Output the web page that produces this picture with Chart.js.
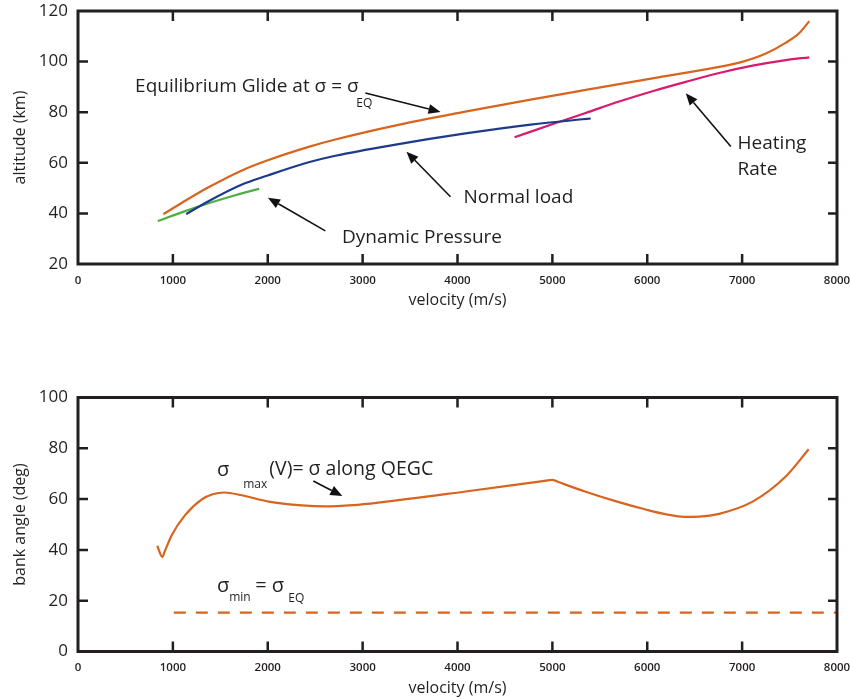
<!DOCTYPE html>
<html><head><meta charset="utf-8">
<script src="https://cdn.jsdelivr.net/npm/chart.js@4.4.0/dist/chart.umd.min.js"></script>
<style>
html,body{margin:0;padding:0;background:#fff;width:850px;height:700px;overflow:hidden;}
#c1{position:absolute;left:0;top:0;}
#c2{position:absolute;left:0;top:386px;}
</style></head><body>
<canvas id="c1" width="850" height="320"></canvas>
<canvas id="c2" width="850" height="314"></canvas>
<script>
// ---- tick labels ----
const velocityTicks = [0, 1000, 2000, 3000, 4000, 5000, 6000, 7000, 8000];
const altitudeTicks = [20, 40, 60, 80, 100, 120];
const bankTicks = [0, 20, 40, 60, 80, 100];

// ---- top panel: altitude (km) vs velocity (m/s) ----
const eqGlideV   = [900, 1100, 1375, 1728, 2000, 2431, 2712, 3364, 4067, 4771, 5380, 6055, 6758, 7000, 7250, 7462, 7600, 7708];
const eqGlideAlt = [39.7, 44.3, 50.3, 57.0, 61.0, 66.3, 69.2, 74.9, 80.1, 85.0, 89.0, 93.4, 97.9, 99.9, 103.2, 107.5, 111.2, 116.0];

const normalLoadV   = [1140, 1375, 1728, 2000, 2431, 2712, 3364, 4067, 4771, 5404];
const normalLoadAlt = [39.7, 44.8, 51.4, 55.0, 60.2, 62.8, 67.3, 71.5, 75.1, 77.5];

const dynPressureV   = [841, 1129, 1375, 1657, 1910];
const dynPressureAlt = [37.0, 40.9, 44.0, 47.2, 49.7];

const heatingRateV   = [4601, 5052, 5351, 5703, 6055, 6406, 6758, 7110, 7462, 7708];
const heatingRateAlt = [70.1, 75.9, 79.7, 84.2, 88.3, 92.0, 95.5, 98.4, 100.6, 101.7];

// ---- bottom panel: bank angle (deg) vs velocity (m/s) ----
const sigmaMaxV    = [835, 890, 910, 989, 1129, 1305, 1420, 1540, 1727, 2009, 2361, 2600, 2900, 3187, 4067, 4900, 5000, 5080, 5351, 5700, 5984, 6200, 6389, 6550, 6758, 7110, 7462, 7701];
const sigmaMaxBank = [41.6, 37.2, 39.0, 45.9, 53.7, 59.9, 61.9, 62.6, 61.5, 59.0, 57.5, 57.1, 57.6, 58.7, 62.9, 67.1, 67.6, 66.5, 62.9, 58.8, 55.9, 54.0, 53.0, 53.1, 54.2, 59.0, 69.0, 79.6];

const sigmaMinV    = [1010, 8000];
const sigmaMinBank = [15.3, 15.3];

// ---- colours ----
const ORANGE = '#d8641e', BLUE = '#1d3a8c', GREEN = '#4cb040', MAGENTA = '#d81b6c', INK = '#231f20';
const FONT = "'Open Sans', 'Noto Sans', sans-serif";

const pts = (xs, ys) => xs.map((x, i) => ({x: x, y: ys[i]}));

const framePlugin = {
  id: 'frame',
  afterDatasetsDraw(chart, args, opts) {
    const ctx = chart.ctx, a = chart.chartArea;
    const xs = chart.scales.x, ys = chart.scales.y;
    ctx.save();
    ctx.strokeStyle = INK; ctx.lineCap = 'butt';
    // inward tick marks
    ctx.lineWidth = 2.5;
    ctx.beginPath();
    xs.ticks.forEach(t => {
      const p = xs.getPixelForValue(t.value);
      if (p <= a.left + 2 || p >= a.right - 2) return;
      ctx.moveTo(p, a.bottom); ctx.lineTo(p, a.bottom - 10);
      ctx.moveTo(p, a.top); ctx.lineTo(p, a.top + 10);
    });
    ys.ticks.forEach(t => {
      const p = ys.getPixelForValue(t.value);
      if (p <= a.top + 2 || p >= a.bottom - 2) return;
      ctx.moveTo(a.left, p); ctx.lineTo(a.left + 10, p);
      ctx.moveTo(a.right, p); ctx.lineTo(a.right - 9, p);
    });
    ctx.stroke();
    // frame
    ctx.lineWidth = 3;
    ctx.strokeRect(a.left, a.top, a.right - a.left, a.bottom - a.top);
    // annotations
    (opts.notes || []).forEach(n => {
      if (n.arrow) {
        const x1 = xs.getPixelForValue(n.arrow[0]), y1 = ys.getPixelForValue(n.arrow[1]);
        const x2 = xs.getPixelForValue(n.arrow[2]), y2 = ys.getPixelForValue(n.arrow[3]);
        const ang = Math.atan2(y2 - y1, x2 - x1), L = 12, W = 5;
        const bx = x2 - L * Math.cos(ang), by = y2 - L * Math.sin(ang);
        ctx.lineWidth = 1.6; ctx.strokeStyle = '#111'; ctx.fillStyle = '#111';
        ctx.beginPath(); ctx.moveTo(x1, y1); ctx.lineTo(bx, by); ctx.stroke();
        ctx.beginPath();
        ctx.moveTo(x2, y2);
        ctx.lineTo(bx + W * Math.sin(ang), by - W * Math.cos(ang));
        ctx.lineTo(bx - W * Math.sin(ang), by + W * Math.cos(ang));
        ctx.closePath(); ctx.fill();
      } else {
        ctx.font = (n.size || 19) + 'px ' + FONT;
        ctx.fillStyle = INK; ctx.textAlign = 'left'; ctx.textBaseline = 'middle';
        ctx.fillText(n.text, xs.getPixelForValue(n.x), ys.getPixelForValue(n.y));
      }
    });
    ctx.restore();
  }
};

function makeChart(id, datasets, yMin, yMax, yTickList, yTitle, xTickPad, xTitlePad, xHeight, padTop, notes) {
  return new Chart(document.getElementById(id), {
    type: 'line',
    data: {datasets: datasets},
    options: {
      responsive: false, animation: false, events: [],
      layout: {padding: {top: padTop, right: 13, left: 0, bottom: 0}},
      elements: {point: {radius: 0}, line: {borderWidth: 2.2, cubicInterpolationMode: 'monotone', fill: false}},
      plugins: {legend: {display: false}, tooltip: {enabled: false}, frame: {notes: notes}},
      scales: {
        x: {
          type: 'linear', min: 0, max: 8000,
          afterBuildTicks: s => { s.ticks = velocityTicks.map(v => ({value: v})); },
          afterFit: s => { s.height = xHeight; s.paddingLeft = 0; s.paddingRight = 0; },
          grid: {display: false, drawTicks: false}, border: {display: false},
          ticks: {color: INK, padding: xTickPad, font: {family: FONT, size: 11.5, weight: '600'}, maxRotation: 0, autoSkip: false, callback: v => String(v)},
          title: {display: true, text: 'velocity (m/s)', color: INK, font: {family: FONT, size: 16}, padding: {top: 0, bottom: xTitlePad}}
        },
        y: {
          type: 'linear', min: yMin, max: yMax,
          afterBuildTicks: s => { s.ticks = yTickList.map(v => ({value: v})); },
          afterFit: s => { s.width = 78; s.paddingTop = 0; s.paddingBottom = 0; },
          grid: {display: false, drawTicks: false}, border: {display: false},
          ticks: {color: INK, padding: 10, font: {family: FONT, size: 17}, callback: v => String(v)},
          title: {display: true, text: yTitle, color: INK, font: {family: FONT, size: 16}, padding: {top: 10.4, bottom: 0}}
        }
      }
    },
    plugins: [framePlugin]
  });
}

makeChart('c1', [
  {label: 'Equilibrium Glide', data: pts(eqGlideV, eqGlideAlt), borderColor: ORANGE},
  {label: 'Normal load', data: pts(normalLoadV, normalLoadAlt), borderColor: BLUE},
  {label: 'Dynamic Pressure', data: pts(dynPressureV, dynPressureAlt), borderColor: GREEN},
  {label: 'Heating Rate', data: pts(heatingRateV, heatingRateAlt), borderColor: MAGENTA}
], 20, 120, altitudeTicks, 'altitude (km)', 10.2, 10.4, 56, 11, [
  {text: 'Equilibrium Glide at σ = σ', x: 602, y: 90.1},
  {text: 'EQ', x: 2934, y: 83.3, size: 12},
  {arrow: [3029, 87.6, 3821, 80.1]},
  {text: 'Normal load', x: 4063, y: 46.2},
  {arrow: [3926, 46.6, 3462, 64.4]},
  {text: 'Dynamic Pressure', x: 2783, y: 30.3},
  {arrow: [2607, 33.1, 2002, 46.2]},
  {text: 'Heating', x: 6952, y: 67.4},
  {text: 'Rate', x: 6952, y: 57.2},
  {arrow: [6881, 66.4, 6406, 87.5]}
]);

makeChart('c2', [
  {label: 'sigma max', data: pts(sigmaMaxV, sigmaMaxBank), borderColor: ORANGE},
  {label: 'sigma min', data: pts(sigmaMinV, sigmaMinBank), borderColor: ORANGE, borderDash: [12, 10]}
], 0, 100, bankTicks, 'bank angle (deg)', 9.0, 2.4, 48.5, 11.5, [
  {text: 'σ', x: 1464, y: 71.5, size: 20},
  {text: 'max', x: 1741, y: 65.9, size: 12},
  {text: '(V)= σ along QEGC', x: 2016, y: 71.5, size: 19.5},
  {arrow: [2480, 67.1, 2786, 61.2]},
  {text: 'σ', x: 1464, y: 25.5, size: 20},
  {text: 'min', x: 1594, y: 21.1, size: 12},
  {text: '= σ', x: 1868, y: 25.5, size: 20},
  {text: 'EQ', x: 2216, y: 20.7, size: 12}
]);
</script>
</body></html>
